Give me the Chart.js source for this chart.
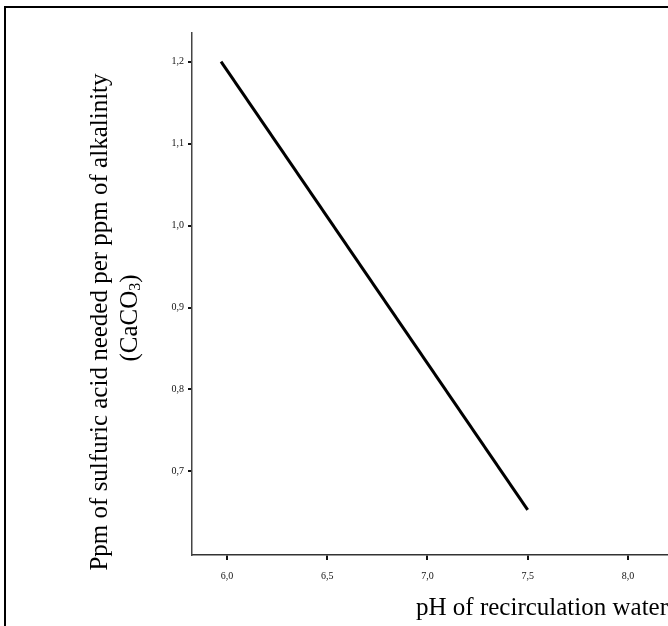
<!DOCTYPE html>
<html>
<head>
<meta charset="utf-8">
<script src="https://cdn.jsdelivr.net/npm/chart.js@4/dist/chart.umd.min.js"></script>
<style>
  html, body { margin: 0; padding: 0; background: #fff; }
  #wrap { width: 668px; height: 626px; position: relative; }
</style>
</head>
<body>
<div id="wrap"><canvas id="c" width="668" height="626"></canvas></div>
<script>
// Acid demand line: pH of recirculation water vs ppm H2SO4 per ppm alkalinity
const phValues = [5.97, 7.5];
const acidPerAlkalinity = [1.2, 0.653];

const xTickValues = [6.0, 6.5, 7.0, 7.5, 8.0];
const xTickLabels = ['6,0', '6,5', '7,0', '7,5', '8,0'];
const yTickValues = [0.7, 0.8, 0.9, 1.0, 1.1, 1.2];
const yTickLabels = ['0,7', '0,8', '0,9', '1,0', '1,1', '1,2'];

const xTitle = 'pH of recirculation water';
const yTitleMain = 'Ppm of sulfuric acid needed per ppm of alkalinity';
const yTitleSub = ['(CaCO', '3', ')'];

const serif = '"Liberation Serif", "Times New Roman", serif';

// Page frame along the left and top edges
const framePlugin = {
  id: 'frame',
  afterDraw(chart) {
    const ctx = chart.ctx;
    ctx.save();
    ctx.strokeStyle = '#000';
    ctx.lineWidth = 2;
    ctx.beginPath();
    ctx.moveTo(5, 626);
    ctx.lineTo(5, 7);
    ctx.lineTo(668, 7);
    ctx.stroke();
    ctx.restore();
  }
};

// Rotated two-line y-axis title, second line with a subscript
const yTitlePlugin = {
  id: 'yTitle',
  afterDraw(chart) {
    const ctx = chart.ctx;
    const cy = 322;
    ctx.save();
    ctx.fillStyle = '#000';
    ctx.textBaseline = 'middle';
    ctx.textAlign = 'center';
    ctx.translate(100, cy);
    ctx.rotate(-Math.PI / 2);
    ctx.font = '25px ' + serif;
    ctx.fillText(yTitleMain, 0, 0);
    ctx.restore();

    ctx.save();
    ctx.fillStyle = '#000';
    ctx.textBaseline = 'middle';
    ctx.translate(130, cy - 4);
    ctx.rotate(-Math.PI / 2);
    const big = '25px ' + serif;
    const small = '16px ' + serif;
    ctx.font = big;
    const w0 = ctx.measureText(yTitleSub[0]).width;
    const w2 = ctx.measureText(yTitleSub[2]).width;
    ctx.font = small;
    const w1 = ctx.measureText(yTitleSub[1]).width;
    let x = -(w0 + w1 + w2) / 2;
    ctx.textAlign = 'left';
    ctx.font = big;
    ctx.fillText(yTitleSub[0], x, 0);
    x += w0;
    ctx.font = small;
    ctx.fillText(yTitleSub[1], x, 6);
    x += w1;
    ctx.font = big;
    ctx.fillText(yTitleSub[2], x, 0);
    ctx.restore();
  }
};

new Chart(document.getElementById('c'), {
  type: 'scatter',
  data: {
    datasets: [{
      data: phValues.map((x, i) => ({ x, y: acidPerAlkalinity[i] })),
      showLine: true,
      borderColor: '#000',
      borderWidth: 3,
      pointRadius: 0,
      fill: false
    }]
  },
  options: {
    responsive: false,
    animation: false,
    layout: { padding: { top: 33, right: 0, left: 0, bottom: 0 } },
    plugins: { legend: { display: false }, tooltip: { enabled: false } },
    scales: {
      x: {
        type: 'linear',
        min: 5.825,
        max: 8.2,
        afterBuildTicks(scale) { scale.ticks = xTickValues.map(v => ({ value: v })); },
        afterFit(scale) { scale.height = 71; },
        ticks: {
          autoSkip: false,
          maxRotation: 0,
          padding: 10,
          color: '#111',
          font: { family: serif, size: 10 },
          callback(value) { const i = xTickValues.indexOf(value); return i >= 0 ? xTickLabels[i] : ''; }
        },
        grid: { drawOnChartArea: false, drawTicks: true, tickLength: 5, color: '#111', lineWidth: 2 },
        border: { display: true, color: '#333', width: 1.5 },
        title: {
          display: true,
          text: xTitle,
          align: 'end',
          color: '#000',
          font: { family: serif, size: 25, lineHeight: 1.2 },
          padding: { top: 0, bottom: 3 }
        }
      },
      y: {
        type: 'linear',
        min: 0.598,
        max: 1.235,
        afterBuildTicks(scale) { scale.ticks = yTickValues.map(v => ({ value: v })); },
        afterFit(scale) { scale.width = 192; },
        ticks: {
          autoSkip: false,
          padding: 4,
          color: '#111',
          font: { family: serif, size: 10 },
          callback(value) {
            const i = yTickValues.findIndex(v => Math.abs(v - value) < 1e-9);
            return i >= 0 ? yTickLabels[i] : '';
          }
        },
        grid: { drawOnChartArea: false, drawTicks: true, tickLength: 4, color: '#111', lineWidth: 2 },
        border: { display: true, color: '#444', width: 1.5 },
        title: { display: false }
      }
    }
  },
  plugins: [framePlugin, yTitlePlugin]
});
</script>
</body>
</html>
